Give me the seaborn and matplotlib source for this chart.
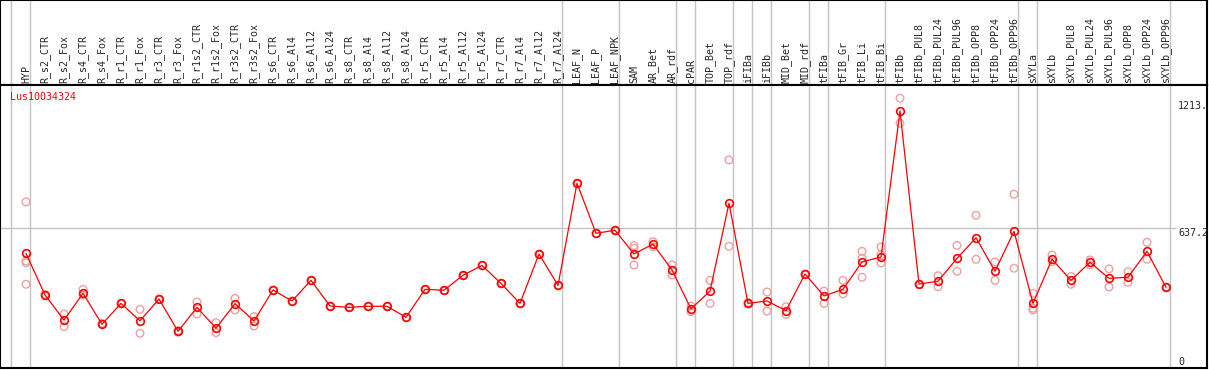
import matplotlib.pyplot as plt
import pandas as pd
import seaborn as sns

# samples (columns of the expression profile)
samples = ["HYP",
           "R_s2_CTR", "R_s2_Fox", "R_s4_CTR", "R_s4_Fox", "R_r1_CTR", "R_r1_Fox",
           "R_r3_CTR", "R_r3_Fox", "R_r1s2_CTR", "R_r1s2_Fox", "R_r3s2_CTR", "R_r3s2_Fox",
           "R_s6_CTR", "R_s6_Al4", "R_s6_Al12", "R_s6_Al24",
           "R_s8_CTR", "R_s8_Al4", "R_s8_Al12", "R_s8_Al24",
           "R_r5_CTR", "R_r5_Al4", "R_r5_Al12", "R_r5_Al24",
           "R_r7_CTR", "R_r7_Al4", "R_r7_Al12", "R_r7_Al24",
           "LEAF_N", "LEAF_P", "LEAF_NPK", "SAM", "AR_Bet", "AR_rdf", "cPAR",
           "TOP_Bet", "TOP_rdf", "iFIBa", "iFIBb", "MID_Bet", "MID_rdf",
           "tFIBa", "tFIB_Gr", "tFIB_Li", "tFIB_Bi", "tFIBb",
           "tFIBb_PUL8", "tFIBb_PUL24", "tFIBb_PUL96", "tFIBb_OPP8", "tFIBb_OPP24", "tFIBb_OPP96",
           "sXYLa", "sXYLb",
           "sXYLb_PUL8", "sXYLb_PUL24", "sXYLb_PUL96", "sXYLb_OPP8", "sXYLb_OPP24", "sXYLb_OPP96"]

# mean expression per sample
means = [522, 332, 218, 340, 199, 294, 215, 314, 167, 276, 181, 293, 214,
         355, 305, 399, 282, 276, 281, 281, 231, 358, 354, 422, 467,
         385, 294, 519, 376, 841, 613, 627, 519, 564, 446, 269,
         350, 750, 294, 305, 261, 428, 328, 358, 483, 505, 1170,
         382, 395, 499, 593, 440, 622, 294, 495,
         399, 481, 408, 413, 531, 367]

# replicate values per sample
reps = [[756, 479, 487, 381], [330, 335], [246, 188], [358, 332], [199, 203],
        [294, 292], [267, 158], [314, 312], [170, 163], [300, 246], [206, 161],
        [317, 264], [234, 191], [355, 353], [305, 303], [399, 397], [282, 280],
        [276, 274], [281, 279], [281, 279], [231, 229], [358, 356], [354, 352],
        [422, 420], [467, 465], [385, 383], [294, 292], [519, 517], [376, 374],
        [841, 839], [613, 611], [627, 625], [557, 545, 469], [575, 552], [469, 423],
        [282, 256], [399, 294], [947, 554], [297, 291], [346, 259], [279, 244],
        [428, 426], [350, 294], [399, 337], [531, 499, 413], [551, 515, 478],
        [1228, 1114], [382, 380], [420, 370], [558, 440], [695, 495], [483, 399],
        [791, 454], [340, 272, 264], [514, 484], [416, 381], [492, 469],
        [451, 369], [438, 390], [572, 495], [367, 365]]

# group separators (vertical lines after these sample indices)
separators = [-1, 0, 28, 31, 34, 35, 37, 38, 39, 41, 42, 45, 52, 53, 60]
gene = "Lus10034324"
mid_value = 637.2
max_value = 1213

df_mean = pd.DataFrame({"pos": range(len(samples)), "sample": samples, "value": means})
df_rep = pd.DataFrame([(i, v) for i, r in enumerate(reps) for v in r], columns=["pos", "value"])

sns.set_style("white")
plt.rcParams["font.family"] = ["DejaVu Sans Mono"]

fig = plt.figure(figsize=(12.09, 3.70), dpi=100)
xlim = (-26 / 19, (1207 - 26) / 19)
head = fig.add_axes([0, 285 / 370, 1207 / 1209, 85 / 370])
ax = fig.add_axes([0, 2 / 370, 1207 / 1209, 283 / 370])

for a in (head, ax):
    a.set_xlim(xlim)
    a.set_xticks([])
    a.set_yticks([])
    for sp in a.spines.values():
        sp.set_color("black")
        sp.set_linewidth(1.5)
    for s in separators:
        a.axvline(s + 0.23, color="#c4c4c4", lw=1, zorder=0)

head.set_ylim(0, 1)
for i, s in enumerate(samples):
    head.text(i, 0.025, s, rotation=90, ha="center", va="bottom", fontsize=7.2)

ax.set_ylim(0, 1288)
ax.hlines(mid_value, xlim[0], 60.55, color="#c4c4c4", lw=1, zorder=0)

sns.scatterplot(data=df_rep, x="pos", y="value", ax=ax, marker="o", s=30,
                facecolors="none", edgecolor="#eea0a0", linewidth=1.0, zorder=2)
sns.lineplot(data=df_mean, x="pos", y="value", ax=ax, color="red", lw=0.9,
             marker="o", markersize=5.5, markerfacecolor="none",
             markeredgecolor="red", markeredgewidth=1.2, zorder=3)
ax.set_xlabel("")
ax.set_ylabel("")

ax.text(-0.84, 1256, gene, color="red", fontsize=7.2, ha="left", va="top")
ax.text(60.63, max_value, "1213.", fontsize=7.2, ha="left", va="top")
ax.text(60.63, mid_value, "637.2", fontsize=7.2, ha="left", va="top")
ax.text(60.63, 5, "0", fontsize=7.2, ha="left", va="bottom")

fig.savefig("out.png", dpi=100)
